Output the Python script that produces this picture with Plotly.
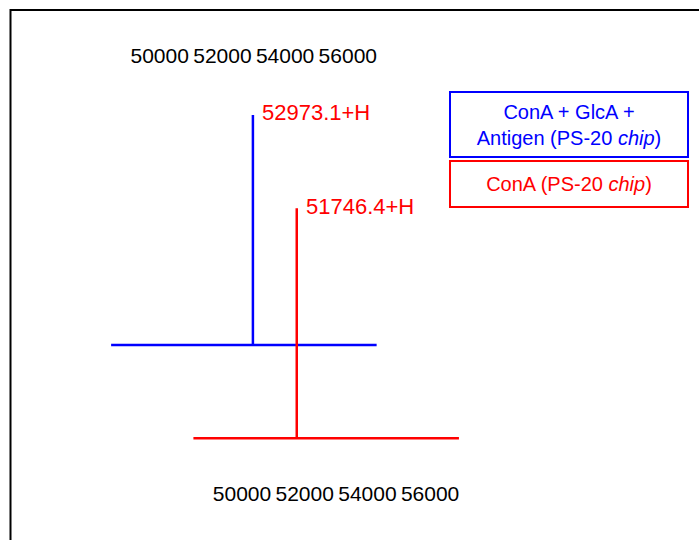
import plotly.graph_objects as go

# Deconvoluted mass spectra (stick representation), m/z in Da
mass_window = [48450, 56920]
tick_masses = [50000, 52000, 54000, 56000]
tick_labels = ["50000", "52000", "54000", "56000"]

complex_name = "ConA + GlcA +<br>Antigen (PS-20 <i>chip</i>)"
complex_peak = 52973.1
complex_intensity = 100

cona_name = "ConA (PS-20 <i>chip</i>)"
cona_peak = 51746.4
cona_intensity = 100

BLUE = "#0000FF"
RED = "#FF0000"
FONT = "Arial, Liberation Sans, sans-serif"


def stick(peak, height):
    xs = [mass_window[0], peak, peak, peak, mass_window[1]]
    ys = [0, 0, height, 0, 0]
    return xs, ys


bx, by = stick(complex_peak, complex_intensity)
rx, ry = stick(cona_peak, cona_intensity)

fig = go.Figure()
fig.add_trace(go.Scatter(x=bx, y=by, mode="lines", name=complex_name,
                         line=dict(color=BLUE, width=2.5), xaxis="x", yaxis="y",
                         showlegend=False))
fig.add_trace(go.Scatter(x=rx, y=ry, mode="lines", name=cona_name,
                         line=dict(color=RED, width=2.5), xaxis="x2", yaxis="y2",
                         showlegend=False))

W, H = 699, 540

# pixel placement of each spectrum panel: intensity 0 and 100 rows
PX_PER_UNIT = 2.3
Y_LO, Y_HI = -5, 102


def y_domain(base_px):
    lo_px = base_px - Y_LO * PX_PER_UNIT
    hi_px = base_px - Y_HI * PX_PER_UNIT
    return [1 - lo_px / H, 1 - hi_px / H]


axis_common = dict(showgrid=False, zeroline=False, showline=False, ticks="",
                   tickmode="array", tickvals=tick_masses, ticktext=tick_labels,
                   tickangle=0, tickfont=dict(family=FONT, size=21, color="black"),
                   range=[48000, 58000])
yaxis_common = dict(showgrid=False, zeroline=False, showline=False,
                    showticklabels=False, ticks="", range=[Y_LO, Y_HI])

fig.update_layout(
    width=W, height=H, autosize=False,
    margin=dict(l=0, r=0, t=0, b=0),
    paper_bgcolor="white", plot_bgcolor="rgba(0,0,0,0)",
    xaxis=dict(axis_common, domain=[97.0 / W, 410.5 / W], anchor="free",
               position=0.8756, side="top"),
    yaxis=dict(yaxis_common, domain=y_domain(345), anchor="x"),
    xaxis2=dict(axis_common, domain=[179.3 / W, 492.8 / W], anchor="free",
                position=0.1126, side="bottom"),
    yaxis2=dict(yaxis_common, domain=y_domain(438.3), anchor="x2"),
)

# Peak mass labels
for peak, height, xr, yr in [(complex_peak, complex_intensity, "x", "y"),
                             (cona_peak, cona_intensity, "x2", "y2")]:
    fig.add_annotation(x=peak, y=height, xref=xr, yref=yr,
                       text=f"{peak:.1f}+H", showarrow=False,
                       xanchor="left", yanchor="middle", xshift=7, yshift=2,
                       font=dict(family=FONT, size=22, color=RED))

# Sample boxes
fig.add_annotation(x=569 / W, y=1 - 124.5 / H, xref="paper", yref="paper",
                   xanchor="center", yanchor="middle",
                   text=complex_name, showarrow=False, align="center",
                   width=236, height=63, borderpad=0,
                   bordercolor=BLUE, borderwidth=2, bgcolor="white",
                   font=dict(family=FONT, size=20, color=BLUE))
fig.add_annotation(x=569 / W, y=1 - 184 / H, xref="paper", yref="paper",
                   xanchor="center", yanchor="middle",
                   text=cona_name, showarrow=False, align="center",
                   width=236, height=44, borderpad=0,
                   bordercolor=RED, borderwidth=2, bgcolor="white",
                   font=dict(family=FONT, size=20, color=RED))

# Frame
fig.add_shape(type="path", xref="paper", yref="paper",
              path=f"M {10.5 / W} -0.05 L {10.5 / W} {1 - 10 / H} L 1.05 {1 - 10 / H}",
              line=dict(color="black", width=2))

fig.write_html("out.html")
